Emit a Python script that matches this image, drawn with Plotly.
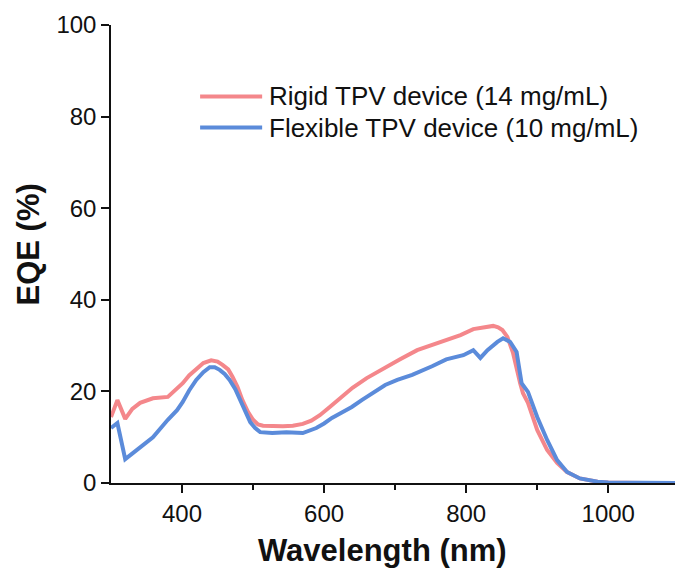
import plotly.graph_objects as go

# EQE spectra (wavelength in nm, EQE in %)
wl_rigid = [300, 309, 320, 330, 341, 359, 380, 390, 401, 410, 420, 430, 441, 450, 457,
            465, 471, 478, 485, 493, 500, 507, 514, 528, 542, 556, 570, 582, 594, 608,
            622, 640, 660, 679, 688, 707, 731, 763, 792, 810, 825, 838, 845, 851, 858,
            866, 876, 880, 887, 900, 914, 928, 942, 960, 985, 1000, 1050, 1100]
eqe_rigid = [14.4, 18.1, 14.0, 16.2, 17.5, 18.5, 18.8, 20.2, 21.8, 23.5, 25.0, 26.2, 26.8, 26.5, 25.8,
             24.8, 23.2, 21.0, 18.1, 15.5, 13.8, 12.8, 12.5, 12.4, 12.4, 12.5, 12.9, 13.6, 14.8, 16.6,
             18.5, 20.8, 22.9, 24.6, 25.3, 27.0, 29.0, 30.8, 32.3, 33.6, 34.0, 34.3, 34.0, 33.4, 31.9,
             28.4, 21.8, 19.6, 17.5, 11.6, 7.2, 4.4, 2.4, 1.0, 0.3, 0.1, 0.0, 0.0]

wl_flex = [300, 309, 320, 330, 341, 359, 380, 393, 401, 410, 420, 430, 439, 446, 453,
           460, 467, 475, 482, 489, 496, 503, 510, 527, 547, 570, 589, 600, 611, 625,
           639, 653, 667, 679, 686, 703, 724, 752, 772, 796, 810, 820, 830, 844, 852,
           862, 871, 878, 887, 900, 914, 928, 942, 960, 985, 1000, 1050, 1100]
eqe_flex = [12.0, 13.1, 5.2, 6.4, 7.6, 10.0, 13.8, 15.9, 17.7, 20.2, 22.5, 24.2, 25.3, 25.3, 24.7,
            23.8, 22.5, 20.5, 18.1, 15.6, 13.3, 12.0, 11.1, 10.9, 11.1, 10.9, 12.0, 13.0, 14.2, 15.4,
            16.6, 18.1, 19.6, 20.7, 21.4, 22.5, 23.6, 25.5, 27.0, 27.9, 29.0, 27.3, 29.0, 30.8, 31.6,
            30.8, 28.6, 21.8, 19.9, 14.4, 9.4, 5.0, 2.4, 1.0, 0.3, 0.1, 0.0, 0.0]

names = ["Rigid TPV device (14 mg/mL)", "Flexible TPV device (10 mg/mL)"]
colors = ["#F4878B", "#5B8BDA"]

x_ticks = [400, 600, 800, 1000]
y_ticks = [0, 20, 40, 60, 80, 100]

FONT = "Arial, Liberation Sans, sans-serif"
LW = 4

fig = go.Figure()
fig.add_trace(go.Scatter(x=wl_rigid, y=eqe_rigid, mode="lines", name=names[0],
                         line=dict(color=colors[0], width=LW)))
fig.add_trace(go.Scatter(x=wl_flex, y=eqe_flex, mode="lines", name=names[1],
                         line=dict(color=colors[1], width=LW)))

# legend drawn as short line segments with labels beside them
leg_y = [0.844, 0.776]
for name, col, yy in zip(names, colors, leg_y):
    fig.add_shape(type="line", xref="paper", yref="paper",
                  x0=0.158, x1=0.268, y0=yy, y1=yy,
                  line=dict(color=col, width=LW))
    fig.add_annotation(xref="paper", yref="paper", x=0.276, y=yy,
                       text=name, showarrow=False, xanchor="left", yanchor="middle",
                       font=dict(family=FONT, size=26, color="#111"))

# axis titles
fig.add_annotation(xref="paper", yref="paper", x=0.482, y=-0.148,
                   text="<b>Wavelength (nm)</b>", showarrow=False,
                   xanchor="center", yanchor="middle",
                   font=dict(family=FONT, size=31, color="#111"))
fig.add_annotation(xref="paper", yref="paper", x=-0.146, y=0.52,
                   text="<b>EQE (%)</b>", showarrow=False, textangle=-90,
                   xanchor="center", yanchor="middle",
                   font=dict(family=FONT, size=31, color="#111"))

fig.update_layout(
    width=675, height=574,
    margin=dict(l=111, r=0, t=25, b=91),
    paper_bgcolor="white", plot_bgcolor="white",
    showlegend=False,
    font=dict(family=FONT, size=24, color="#111"),
)
fig.update_xaxes(range=[300, 1094], tickvals=x_ticks, ticks="outside", ticklen=8,
                 tickwidth=1.5, tickcolor="#111", showline=True, linecolor="#111",
                 linewidth=1.5, showgrid=False, zeroline=False,
                 minor=dict(tickvals=[500, 700, 900], ticks="outside", ticklen=5,
                            tickwidth=1.5, tickcolor="#111"),
                 tickfont=dict(size=24))
fig.update_yaxes(range=[0, 100], tickvals=y_ticks, ticks="outside", ticklen=8,
                 tickwidth=1.5, tickcolor="#111", showline=True, linecolor="#111",
                 linewidth=1.5, showgrid=False, zeroline=False,
                 tickfont=dict(size=24))

fig.write_html("out.html")
